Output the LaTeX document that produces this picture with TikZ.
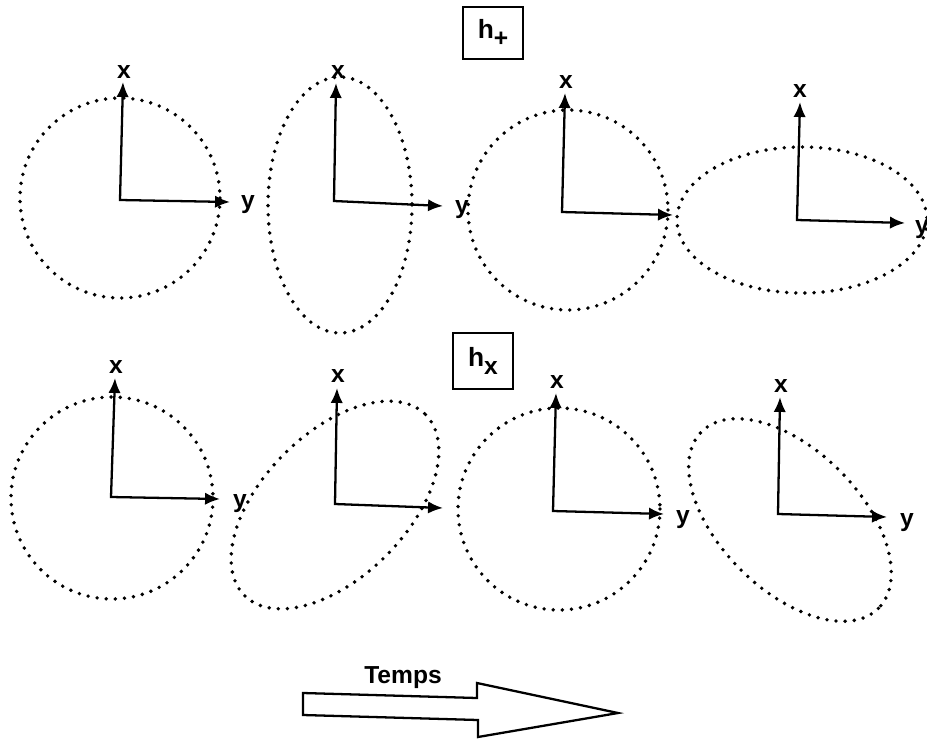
\documentclass[tikz,border=0pt]{standalone}
\usepackage{fontspec}
\setmainfont{Liberation Sans}
\usetikzlibrary{arrows.meta}

\begin{document}
\begin{tikzpicture}[x=0.02cm,y=-0.02cm,
  pointille/.style={line width=2.2pt,line cap=round,dash pattern=on 0pt off 5.2pt},
  axe/.style={line width=1.3pt,line join=miter,{Latex[length=8.5pt,width=7pt]}-{Latex[length=8.5pt,width=7pt]}},
  lettre/.style={inner sep=0pt,font=\fontsize{14}{16}\selectfont\bfseries},
  cadre/.style={draw,line width=1.3pt,minimum width=1.2cm,font=\fontsize{15}{17}\selectfont\bfseries}]
\useasboundingbox (0,0) rectangle (927,738);

% polarisation h+
\node[cadre,minimum height=1.04cm] (hplus) at (493,33) {h\raisebox{-5pt}{\fontsize{14}{16}\selectfont +}};

\draw[pointille] (120,198) circle[radius=100];
\coordinate (o1) at (120,200); \coordinate (x1) at (123,82); \coordinate (y1) at (230,202);
\draw[axe] (x1) -- (o1) -- (y1);
\node[lettre] (lx1) at (124,72) {x};
\node[lettre] (ly1) at (248,205) {y};

\draw[pointille] (340,205) ellipse[x radius=72,y radius=128];
\coordinate (o2) at (334,201); \coordinate (x2) at (336,83); \coordinate (y2) at (443,206);
\draw[axe] (x2) -- (o2) -- (y2);
\node[lettre] (lx2) at (338,72) {x};
\node[lettre] (ly2) at (462,210) {y};

\draw[pointille] (568,210) circle[radius=100];
\coordinate (o3) at (562,212); \coordinate (x3) at (565,93); \coordinate (y3) at (673,215);
\draw[axe] (x3) -- (o3) -- (y3);
\node[lettre] (lx3) at (566,82) {x};

\draw[pointille] (802,220) ellipse[x radius=125,y radius=73];
\coordinate (o4) at (797,220); \coordinate (x4) at (800,102); \coordinate (y4) at (905,223);
\draw[axe] (x4) -- (o4) -- (y4);
\node[lettre] (lx4) at (800,91) {x};
\node[lettre] (ly4) at (922,230) {y};

% polarisation hx
\node[cadre,minimum height=1.12cm] (hcroix) at (483,361) {h\raisebox{-5pt}{\fontsize{14}{16}\selectfont x}};

\draw[pointille] (112,498) circle[radius=101];
\coordinate (o5) at (111,497); \coordinate (x5) at (115,378); \coordinate (y5) at (220,499);
\draw[axe] (x5) -- (o5) -- (y5);
\node[lettre] (lx5) at (116,367) {x};
\node[lettre] (ly5) at (240,504) {y};

\draw[pointille,rotate around={45:(335,505)}] (335,505) ellipse[x radius=128,y radius=72];
\coordinate (o6) at (335,504); \coordinate (x6) at (337,388); \coordinate (y6) at (443,508);
\draw[axe] (x6) -- (o6) -- (y6);
\node[lettre] (lx6) at (338,376) {x};

\draw[pointille] (559,509) circle[radius=101];
\coordinate (o7) at (553,511); \coordinate (x7) at (556,393); \coordinate (y7) at (664,514);
\draw[axe] (x7) -- (o7) -- (y7);
\node[lettre] (lx7) at (557,382) {x};
\node[lettre] (ly7) at (683,520) {y};

\draw[pointille,rotate around={-45:(790,520)}] (790,520) ellipse[x radius=125,y radius=70];
\coordinate (o8) at (778,514); \coordinate (x8) at (780,397); \coordinate (y8) at (887,517);
\draw[axe] (x8) -- (o8) -- (y8);
\node[lettre] (lx8) at (781,386) {x};
\node[lettre] (ly8) at (907,523) {y};

% fleche du temps
\draw[line width=1.3pt,line join=miter] (303,693) -- (477,698) -- (477,683) -- (618,713) -- (478,737) -- (478,720) -- (303,715) -- cycle;
\node[inner sep=0pt,font=\fontsize{14}{16}\selectfont\bfseries] (temps) at (403,678) {Temps};
\end{tikzpicture}
\end{document}
